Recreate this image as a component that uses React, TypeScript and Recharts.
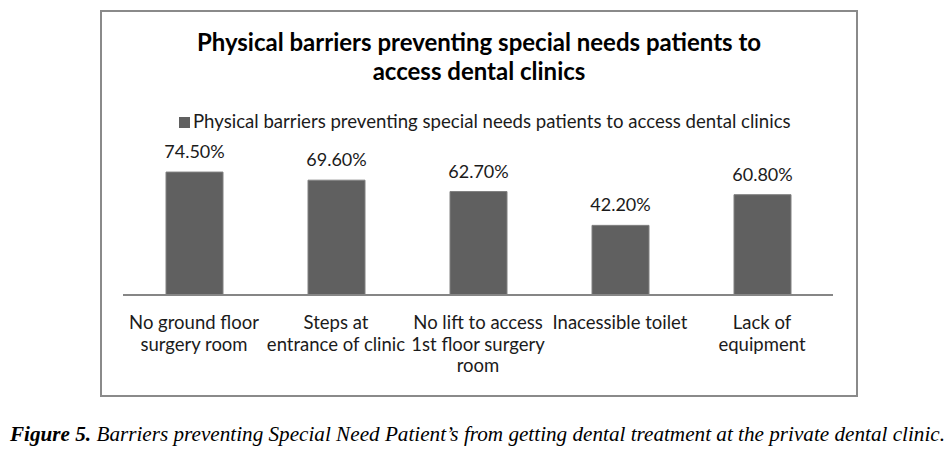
import React from "react"
import { BarChart, Bar, XAxis, YAxis, LabelList } from "recharts"

const categories = [
  "No ground floor surgery room",
  "Steps at entrance of clinic",
  "No lift to access 1st floor surgery room",
  "Inacessible toilet",
  "Lack of equipment",
]
const tickLines = [
  ["No ground floor", "surgery room"],
  ["Steps at", "entrance of clinic"],
  ["No lift to access", "1st floor surgery", "room"],
  ["Inacessible toilet"],
  ["Lack of", "equipment"],
]
const values = [74.5, 69.6, 62.7, 42.2, 60.8]
const seriesName = "Physical barriers preventing special needs patients to access dental clinics"
const titleLines = ["Physical barriers preventing special needs patients to", "access dental clinics"]
const caption = "Barriers preventing Special Need Patient\u2019s from getting dental treatment at the private dental clinic."

const data = categories.map((c, i) => ({ name: c, value: values[i], idx: i }))

const FONT = "Lato, 'Open Sans', sans-serif"
const TEXT = "#1b1b1b"

const Tick = ({ x, y, payload }: any) => {
  const lines = tickLines[payload.index] || [payload.value]
  return (
    <text x={x} y={y} textAnchor="middle" fill={TEXT} fontSize={18.5} fontFamily={FONT}>
      {lines.map((l, i) => (
        <tspan key={i} x={x} dy={i === 0 ? 26 : 21.5}>{l}</tspan>
      ))}
    </text>
  )
}

export default function App() {
  return (
    <div style={{ position:"absolute", left:0, top:0, width:948, height:453, background:"#fff" }}>
      <div style={{ position:"absolute", left:100, top:10, width:754, height:383, border:"2px solid #8a8a8a" }} />
      <svg width={948} height={140} style={{ position:"absolute", left:0, top:0 }}>
        {titleLines.map((t, i) => (
          <text key={i} x={479} y={51 + i * 29} textAnchor="middle" fontFamily={FONT} fontWeight={700} fontSize={24} fill="#000">{t}</text>
        ))}
        <rect x={179} y={117} width={11} height={11} fill="#606060" />
        <text x={193} y={128} fontFamily={FONT} fontSize={18.6} fill={TEXT}>{seriesName}</text>
      </svg>
      <div style={{ position:"absolute", left:0, top:0 }}>
        <BarChart width={948} height={453} data={data} margin={{ top:163, right:115, bottom:98, left:123 }}>
          <YAxis hide domain={[0, 80]} />
          <XAxis dataKey="name" height={60} interval={0} axisLine={{ stroke:"#868686", strokeWidth:2 }} tickLine={false} tick={<Tick />} />
          <Bar dataKey="value" barSize={57} fill="#606060" stroke="#808080" strokeWidth={1} isAnimationActive={false}>
            <LabelList dataKey="value" position="top" offset={14} formatter={(v: any) => Number(v).toFixed(2) + "%"} style={{ fontFamily:FONT, fontSize:18, fill:TEXT }} />
          </Bar>
        </BarChart>
      </div>
      <svg width={948} height={60} style={{ position:"absolute", left:0, top:400 }}>
        <text x={10} y={41} fontFamily="'Liberation Serif', 'Times New Roman', serif" fontStyle="italic" fontSize={21} fill="#000" textLength={935} lengthAdjust="spacingAndGlyphs">
          <tspan fontWeight={700}>Figure 5.</tspan> {caption}
        </text>
      </svg>
    </div>
  )
}
